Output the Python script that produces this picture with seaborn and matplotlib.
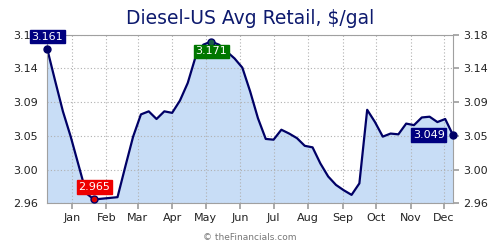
import matplotlib
matplotlib.use("Agg")
import matplotlib.pyplot as plt
import matplotlib.dates as mdates
import seaborn as sns
import pandas as pd
import numpy as np

# ---- data ----
start_date = "2018-12-10"
prices = [3.161, 3.120, 3.080, 3.047, 3.010, 2.973, 2.965, 2.966, 2.967, 2.968,
          3.008, 3.047, 3.076, 3.080, 3.070, 3.080, 3.078, 3.094, 3.117, 3.151,
          3.167, 3.171, 3.167, 3.158, 3.149, 3.137, 3.106, 3.071, 3.044, 3.043,
          3.056, 3.051, 3.045, 3.035, 3.033, 3.012, 2.995, 2.984, 2.977, 2.971,
          2.986, 3.082, 3.066, 3.047, 3.051, 3.050, 3.064, 3.062, 3.072, 3.073,
          3.066, 3.070, 3.049]
month_labels = ["Jan", "Feb", "Mar", "Apr", "May", "Jun",
                "Jul", "Aug", "Sep", "Oct", "Nov", "Dec"]
y_min, y_max = 2.96, 3.18
title = "Diesel-US Avg Retail, $/gal"
credit = "© theFinancials.com"

dates = pd.date_range(start_date, periods=len(prices), freq="7D")
df = pd.DataFrame({"date": dates, "price": prices})

sns.set_theme(style="white")
plt.rcParams['font.family'] = ['DejaVu Sans']

fig = plt.figure(figsize=(5, 2.5), dpi=100)
L, R, T, B = 47.3, 453, 34.7, 203.3
ax = fig.add_axes([L / 500, 1 - B / 250, (R - L) / 500, (B - T) / 250])

navy = "#000066"
ax.fill_between(df["date"], df["price"], y_min, color="#c8ddf6", zorder=1, linewidth=0)
sns.lineplot(data=df, x="date", y="price", ax=ax, color=navy, linewidth=1.6, zorder=3)

ax.set_xlim(dates[0], dates[-1])
ax.set_ylim(y_min, y_max)
yt = np.linspace(y_min, y_max, 6)
ax.set_yticks(yt)
ax.set_yticklabels([f"{v:.2f}" for v in yt])
mticks = pd.date_range("2019-01-01", periods=12, freq="MS")
ax.set_xticks(mticks)
ax.set_xticklabels(month_labels)
ax.set_xlabel("")
ax.set_ylabel("")

ax.grid(True, color="#b0b0b0", linestyle=(0, (1, 2)), linewidth=0.8)
ax.set_axisbelow(False)
for gl in ax.get_xgridlines() + ax.get_ygridlines():
    gl.set_zorder(2)
for s in ax.spines.values():
    s.set_color("#a0a0a0")
    s.set_linewidth(0.8)
    s.set_zorder(4)

ax.tick_params(axis="y", which="both", left=False, right=True, labelleft=True,
               labelright=True, length=4, color="#a0a0a0", labelsize=8,
               labelcolor="#222222", pad=3)
ax.tick_params(axis="x", bottom=True, length=4, color="#a0a0a0", labelsize=8,
               labelcolor="#222222", pad=3, direction="out")

# markers and labels
i_min = int(np.argmin(prices))
i_max = int(np.argmax(prices))
pts = [
    (0, "#000080", navy, (0, 9), "center", "center"),
    (i_min, "#ee0000", "#ee0000", (0, 9), "center", "center"),
    (i_max, "#007700", "#007700", (0, -7), "center", "center"),
    (len(prices) - 1, "#000080", navy, (-6, 0), "right", "center"),
]
marker_face = {0: navy, i_min: "#dd0000", i_max: "#1b5e4a", len(prices) - 1: navy}
for i, box, edge, off, ha, va in pts:
    ax.plot(dates[i], prices[i], "o", ms=5, mfc=marker_face[i], mec=navy,
            mew=1, zorder=5, clip_on=False)
    ax.annotate(f"{prices[i]:.3f}", xy=(dates[i], prices[i]), xytext=off,
                textcoords="offset points", ha=ha, va=va, color="white",
                fontsize=8, zorder=6, annotation_clip=False,
                bbox=dict(boxstyle="square,pad=0.15", fc=box, ec=box))

fig.text(0.5, 1 - 18 / 250, title, ha="center", va="center", fontsize=13.5,
         color="#0d1a6e")
fig.text(0.5, 1 - 237 / 250, credit, ha="center", va="center", fontsize=6.5,
         color="#777777")

fig.savefig("out.png", dpi=100)
